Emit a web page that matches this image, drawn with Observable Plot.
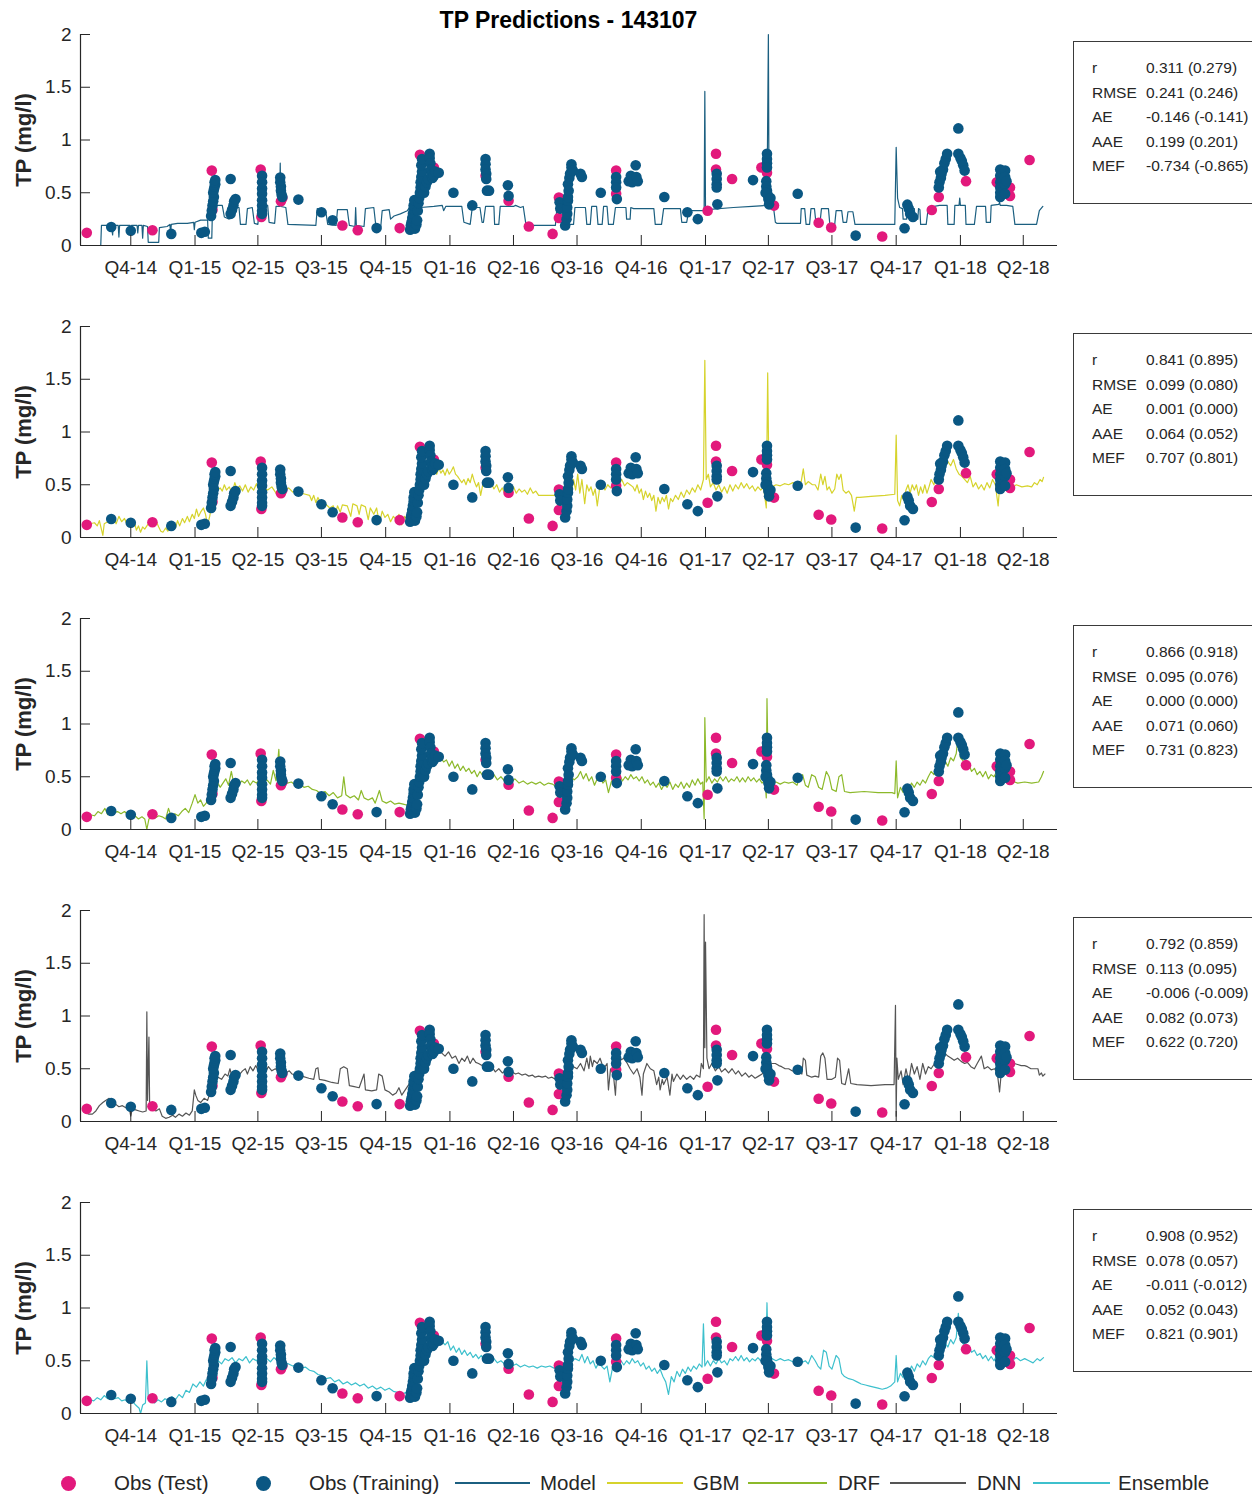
<!DOCTYPE html>
<html>
<head>
<meta charset="utf-8">
<script src="https://cdn.jsdelivr.net/npm/d3@7"></script>
<script src="https://cdn.jsdelivr.net/npm/@observablehq/plot@0.6"></script>
<style>
  html, body { margin: 0; padding: 0; background: #fff; overflow: hidden; }
  body { font-family: "Liberation Sans", Arial, sans-serif; color: #262626; }
  #wrap { position: relative; width: 1252px; height: 1495px; overflow: hidden; background: #fff; }
  .panel { position: absolute; left: 0; }
  .title { position: absolute; left: 80px; width: 977px; top: 9px; text-align: center;
           font-weight: bold; font-size: 23px; line-height: 23px; color: #000; }
  .ylab { position: absolute; left: 23.5px; font-weight: bold; font-size: 22px; line-height: 22px;
          white-space: nowrap; transform: translate(-50%, -50%) rotate(-90deg); color: #262626; }
  .stats { position: absolute; left: 1073px; width: 210px; height: 147px; border: 1px solid #3a3a3a;
           box-sizing: content-box; padding-top: 14px; padding-left: 18px; font-size: 15.5px; line-height: 24.5px;
           color: #262626; background: #fff; }
  .stats .row { white-space: nowrap; height: 24.5px; }
  .stats .k { display: inline-block; width: 54px; }
  .legend { position: absolute; left: 0; top: 0; width: 1252px; height: 1495px; pointer-events: none; }
  .lg-dot { position: absolute; width: 15px; height: 15px; border-radius: 50%; top: 1475.5px; }
  .lg-line { position: absolute; height: 1.6px; top: 1482px; }
  .lg-text { position: absolute; top: 1473px; font-size: 20.5px; line-height: 20.5px; white-space: nowrap; color: #262626; }
</style>
</head>
<body>
<div id="wrap"></div>
<script>
// ---------- data ----------
const chartTitle = "TP Predictions - 143107";
const yLabel = "TP (mg/l)";
const quarterLabels = ["Q4-14","Q1-15","Q2-15","Q3-15","Q4-15","Q1-16","Q2-16","Q3-16","Q4-16","Q1-17","Q2-17","Q3-17","Q4-17","Q1-18","Q2-18"];
const yTicks = [0, 0.5, 1, 1.5, 2];
// x values are days counted from 2014-10-01
const dayOrigin = Date.UTC(2014, 9, 1);
const xRangeDays = [-72, 1327];

const obsTest = [
  [-63,0.12],[31,0.145],[116,0.71],[117,0.34],[186,0.72],[187,0.27],[215,0.42],[217,0.45],
  [303,0.19],[325,0.145],[385,0.165],[407,0.2],[414,0.86],[420,0.62],[434,0.74],[508,0.66],
  [541,0.425],[570,0.18],[604,0.11],[613,0.455],[613,0.26],[695,0.71],[695,0.49],[826,0.33],
  [838,0.87],[838,0.72],[861,0.63],[903,0.74],[911,0.69],[921,0.378],[985,0.215],[1003,0.17],
  [1076,0.085],[1147,0.337],[1157,0.46],[1196,0.61],[1240,0.6],[1259,0.55],[1259,0.47],[1287,0.81]
];
const obsTraining = [
  [-28,0.175],[0,0.14],[58,0.11],[101,0.12],[106,0.13],
  [115,0.28],[116,0.33],[117,0.38],[118,0.42],[119,0.46],[118,0.5],[119,0.53],[120,0.56],[121,0.58],[120,0.6],[121,0.62],
  [143,0.63],[143,0.30],[145,0.34],[147,0.38],[148,0.42],[150,0.44],
  [188,0.66],[188,0.6],[188,0.54],[188,0.49],[188,0.43],[188,0.38],[188,0.33],[188,0.3],
  [214,0.645],[214,0.6],[215,0.56],[215,0.52],[216,0.48],[217,0.46],
  [240,0.435],[273,0.315],[289,0.24],[352,0.165],
  [400,0.15],[401,0.19],[402,0.22],[403,0.26],[404,0.3],[405,0.34],[405,0.38],[406,0.43],[407,0.16],[409,0.2],
  [410,0.24],[411,0.33],[412,0.4],[413,0.45],[414,0.5],[415,0.55],[415,0.6],[416,0.65],[417,0.7],[416,0.76],
  [417,0.82],[420,0.5],[422,0.56],[424,0.6],[426,0.63],[428,0.87],[428,0.83],[429,0.78],[430,0.72],[431,0.67],
  [432,0.64],[434,0.66],[436,0.7],[441,0.69],
  [462,0.5],[489,0.38],
  [508,0.82],[508,0.77],[508,0.72],[509,0.68],[509,0.63],[510,0.52],[513,0.52],
  [540,0.57],[541,0.47],
  [614,0.41],[615,0.35],[622,0.19],[624,0.25],[625,0.3],[625,0.36],[626,0.425],[626,0.46],[626,0.58],[627,0.52],
  [628,0.64],[629,0.68],[631,0.77],[631,0.74],[633,0.71],[644,0.68],[646,0.65],
  [673,0.5],
  [695,0.65],[695,0.6],[695,0.55],[696,0.44],
  [713,0.61],[716,0.66],[718,0.6],[723,0.76],[724,0.65],[726,0.61],
  [764,0.46],[797,0.315],[812,0.25],
  [839,0.68],[839,0.63],[839,0.58],[839,0.55],[840,0.39],
  [891,0.62],
  [911,0.87],[911,0.82],[911,0.78],[911,0.74],[910,0.61],[910,0.56],[911,0.52],[912,0.48],[913,0.44],[914,0.39],[909,0.5],[916,0.45],
  [955,0.49],[1038,0.094],[1108,0.164],[1112,0.387],[1114,0.35],[1116,0.3],[1120,0.27],
  [1157,0.55],[1158,0.6],[1160,0.64],[1161,0.68],[1163,0.72],[1165,0.78],[1167,0.82],[1169,0.87],[1159,0.7],
  [1185,1.11],[1185,0.87],[1188,0.83],[1190,0.8],[1192,0.76],[1194,0.71],
  [1245,0.72],[1245,0.66],[1245,0.6],[1245,0.55],[1245,0.5],[1245,0.46],[1252,0.71],[1252,0.65],[1252,0.58],[1252,0.49],[1254,0.61]
];

const modelLine = [
  [-72,0],[-43,0],[-42,0.19],[-28,0.19],[-26,0.1],[-25,0.19],[-18,0.19],[-17,0.08],[-16,0.19],[-1,0.19],[0,0.11],[1,0.19],
  [9,0.19],[10,0.12],[11,0.19],[16,0.19],[17,0.07],[18,0.19],[24,0.18],[25,0.03],[40,0.03],[41,0.17],[52,0.18],[56,0.2],
  [57,0.12],[58,0.2],[67,0.21],[81,0.21],[90,0.22],[91,0.15],[92,0.22],[100,0.24],[110,0.24],[111,0.07],[116,0.07],[117,0.35],
  [124,0.38],[131,0.38],[134,0.27],[141,0.25],[143,0.36],[155,0.36],[157,0.2],[165,0.2],[167,0.35],[174,0.36],[177,0.21],
  [182,0.2],[184,0.37],[196,0.38],[198,0.22],[206,0.21],[208,0.37],[213,0.37],[214,0.78],[215,0.37],[222,0.36],[225,0.2],
  [265,0.19],[267,0.35],[279,0.33],[282,0.2],[294,0.19],[296,0.34],[310,0.34],[313,0.19],[321,0.18],[322,0.36],[323,0.19],
  [334,0.18],[336,0.35],[348,0.36],[351,0.18],[358,0.18],[360,0.33],[370,0.34],[372,0.25],[377,0.28],[386,0.3],[396,0.33],
  [400,0.37],[415,0.36],[434,0.37],[446,0.38],[448,0.33],[451,0.37],[472,0.37],[474,0.37],[477,0.22],[486,0.2],[489,0.36],
  [500,0.36],[503,0.22],[505,0.22],[508,0.37],[520,0.37],[521,0.2],[527,0.2],[529,0.37],[548,0.37],[551,0.38],[558,0.36],
  [562,0.37],[566,0.19],[570,0.19],[608,0.19],[610,0.34],[625,0.35],[627,0.2],[634,0.2],[636,0.36],[651,0.36],[653,0.2],
  [658,0.2],[660,0.37],[667,0.37],[669,0.2],[675,0.2],[677,0.37],[682,0.37],[684,0.2],[691,0.2],[694,0.36],[709,0.36],
  [710,0.25],[715,0.25],[716,0.36],[720,0.35],[749,0.35],[751,0.2],[760,0.2],[763,0.35],[787,0.35],[789,0.22],[796,0.22],
  [799,0.33],[821,0.33],[822,1.46],[823,0.33],[825,0.34],[863,0.36],[890,0.37],[911,0.38],[913,2.0],[914,0.38],[920,0.38],
  [923,0.22],[925,0.21],[959,0.21],[960,0.35],[965,0.35],[967,0.2],[972,0.2],[974,0.35],[979,0.35],[981,0.22],[987,0.22],
  [989,0.35],[999,0.35],[1001,0.2],[1008,0.2],[1010,0.33],[1018,0.33],[1020,0.22],[1025,0.22],[1027,0.32],[1034,0.32],
  [1037,0.2],[1094,0.2],[1096,0.93],[1098,0.45],[1101,0.36],[1105,0.35],[1106,0.25],[1111,0.25],[1112,0.35],[1122,0.35],
  [1123,0.25],[1127,0.25],[1128,0.35],[1130,0.34],[1131,0.2],[1139,0.2],[1142,0.36],[1158,0.38],[1169,0.38],[1170,0.2],
  [1179,0.2],[1180,0.38],[1186,0.38],[1187,0.45],[1188,0.38],[1195,0.38],[1196,0.2],[1208,0.2],[1211,0.37],[1224,0.37],
  [1225,0.22],[1231,0.22],[1232,0.38],[1243,0.39],[1244,0.41],[1245,0.38],[1254,0.38],[1263,0.37],[1266,0.2],[1297,0.2],
  [1301,0.33],[1306,0.37]
];

const gbmLine = [
  [-64,0.12],[-58,0.13],[-52,0.14],[-48,0.11],[-45,0.16],[-40,0.02],[-38,0.13],[-33,0.15],[-28,0.14],[-24,0.19],[-21,0.13],
  [-17,0.2],[-13,0.15],[-9,0.18],[-5,0.12],[-1,0.14],[2,0.1],[5,0.15],[8,0.07],[11,0.11],[14,0.05],[17,0.1],[20,0.08],
  [24,0.12],[28,0.16],[32,0.13],[36,0.16],[40,0.1],[43,0.06],[46,0.05],[50,0.09],[53,0.06],[57,0.1],[60,0.13],[64,0.09],
  [67,0.16],[70,0.11],[74,0.18],[77,0.14],[81,0.2],[84,0.15],[88,0.22],[91,0.18],[94,0.27],[97,0.2],[100,0.24],[104,0.28],
  [107,0.22],[110,0.12],[113,0.2],[117,0.35],[120,0.42],[124,0.45],[128,0.47],[131,0.44],[134,0.5],[137,0.45],[141,0.48],
  [145,0.42],[149,0.52],[152,0.46],[156,0.49],[160,0.44],[164,0.5],[168,0.43],[172,0.48],[176,0.45],[180,0.51],[184,0.44],
  [190,0.47],[196,0.45],[202,0.48],[208,0.42],[214,0.46],[220,0.44],[226,0.47],[232,0.43],[238,0.45],[244,0.42],[250,0.41],
  [256,0.4],[259,0.35],[262,0.4],[265,0.33],[268,0.38],[271,0.34],[275,0.29],[280,0.31],[285,0.28],[290,0.3],[293,0.22],
  [296,0.3],[300,0.24],[303,0.31],[310,0.3],[315,0.2],[318,0.32],[324,0.3],[327,0.22],[330,0.31],[336,0.29],[340,0.17],
  [343,0.28],[348,0.22],[352,0.28],[356,0.13],[360,0.25],[364,0.19],[368,0.22],[372,0.15],[376,0.2],[380,0.17],[384,0.22],
  [388,0.12],[392,0.2],[396,0.16],[398,0.15],[402,0.2],[405,0.3],[410,0.45],[415,0.55],[420,0.6],[425,0.58],[430,0.62],
  [435,0.65],[438,0.6],[441,0.66],[444,0.61],[447,0.64],[450,0.59],[453,0.65],[456,0.6],[459,0.63],[462,0.67],[465,0.6],
  [468,0.58],[471,0.55],[474,0.52],[477,0.55],[480,0.5],[483,0.56],[486,0.52],[489,0.6],[492,0.53],[495,0.48],[498,0.52],
  [501,0.4],[504,0.5],[508,0.55],[512,0.48],[516,0.52],[520,0.46],[524,0.5],[528,0.43],[532,0.47],[536,0.41],[540,0.46],
  [544,0.43],[548,0.48],[552,0.42],[556,0.46],[560,0.43],[564,0.45],[568,0.41],[572,0.47],[576,0.42],[580,0.44],[584,0.4],
  [600,0.4],[610,0.4],[614,0.38],[618,0.42],[622,0.36],[626,0.44],[630,0.4],[634,0.55],[637,0.45],[640,0.6],[643,0.42],
  [646,0.55],[650,0.32],[653,0.5],[656,0.44],[659,0.48],[662,0.4],[665,0.46],[668,0.3],[671,0.45],[675,0.5],[679,0.45],
  [683,0.5],[687,0.47],[691,0.52],[695,0.48],[699,0.5],[703,0.55],[707,0.49],[711,0.52],[715,0.5],[719,0.48],[722,0.44],
  [725,0.5],[728,0.42],[731,0.46],[734,0.36],[737,0.44],[740,0.38],[743,0.42],[746,0.35],[749,0.4],[752,0.25],[755,0.38],
  [758,0.32],[761,0.38],[764,0.34],[767,0.4],[770,0.27],[773,0.37],[776,0.34],[780,0.4],[784,0.36],[788,0.43],[792,0.38],
  [796,0.45],[800,0.41],[804,0.47],[808,0.43],[812,0.5],[816,0.45],[820,0.55],[822,1.68],[824,0.55],[827,0.6],[830,0.48],
  [834,0.52],[838,0.45],[842,0.5],[846,0.43],[850,0.48],[854,0.42],[858,0.5],[862,0.44],[866,0.5],[870,0.46],[874,0.52],
  [878,0.47],[882,0.51],[886,0.46],[890,0.49],[894,0.44],[898,0.48],[902,0.45],[906,0.48],[910,0.28],[912,1.56],[914,0.45],
  [918,0.48],[924,0.5],[930,0.49],[936,0.51],[942,0.5],[948,0.52],[954,0.51],[960,0.53],[963,0.65],[966,0.5],[970,0.53],
  [976,0.5],[980,0.5],[984,0.45],[988,0.6],[991,0.5],[994,0.58],[997,0.45],[1000,0.48],[1004,0.42],[1008,0.46],[1011,0.6],
  [1014,0.55],[1017,0.6],[1020,0.45],[1024,0.42],[1028,0.44],[1032,0.4],[1036,0.25],[1039,0.38],[1044,0.38],[1060,0.39],
  [1080,0.4],[1094,0.41],[1096,0.97],[1098,0.35],[1101,0.3],[1104,0.4],[1107,0.35],[1110,0.45],[1113,0.5],[1116,0.42],
  [1119,0.5],[1122,0.45],[1125,0.5],[1128,0.4],[1131,0.48],[1134,0.42],[1137,0.5],[1140,0.42],[1143,0.48],[1146,0.55],
  [1150,0.5],[1154,0.6],[1158,0.63],[1162,0.66],[1166,0.7],[1170,0.72],[1174,0.68],[1178,0.74],[1182,0.65],[1186,0.6],
  [1190,0.58],[1194,0.55],[1198,0.52],[1202,0.58],[1206,0.48],[1210,0.52],[1214,0.46],[1218,0.5],[1222,0.45],[1226,0.52],
  [1230,0.47],[1234,0.55],[1238,0.5],[1242,0.3],[1245,0.55],[1248,0.5],[1252,0.56],[1256,0.5],[1260,0.54],[1264,0.48],
  [1268,0.5],[1276,0.48],[1284,0.49],[1290,0.48],[1294,0.52],[1298,0.5],[1302,0.55],[1305,0.53],[1307,0.57]
];

const drfLine = [
  [-63,0.12],[-58,0.14],[-52,0.13],[-47,0.17],[-42,0.15],[-37,0.2],[-33,0.14],[-29,0.18],[-24,0.16],[-19,0.17],[-14,0.15],
  [-9,0.17],[-4,0.14],[1,0.12],[6,0.13],[11,0.1],[16,0.12],[20,0.1],[23,0.0],[26,0.1],[30,0.12],[35,0.11],[40,0.13],
  [45,0.12],[50,0.1],[54,0.2],[58,0.12],[63,0.15],[68,0.13],[73,0.17],[78,0.2],[83,0.16],[88,0.25],[92,0.33],[96,0.25],
  [100,0.28],[104,0.22],[108,0.25],[112,0.32],[116,0.35],[120,0.42],[124,0.45],[128,0.4],[132,0.44],[136,0.48],[140,0.42],
  [144,0.55],[147,0.45],[151,0.48],[155,0.43],[159,0.46],[163,0.44],[167,0.47],[171,0.42],[175,0.46],[180,0.44],[185,0.48],
  [190,0.45],[195,0.47],[200,0.43],[204,0.56],[208,0.46],[212,0.76],[214,0.47],[218,0.46],[224,0.44],[230,0.45],[236,0.42],
  [242,0.43],[248,0.4],[254,0.41],[260,0.38],[266,0.37],[272,0.34],[278,0.36],[284,0.32],[290,0.35],[296,0.3],[302,0.32],
  [305,0.5],[308,0.33],[314,0.3],[320,0.32],[326,0.28],[330,0.37],[334,0.3],[340,0.28],[346,0.3],[350,0.25],[356,0.37],
  [360,0.27],[366,0.25],[372,0.27],[378,0.24],[384,0.25],[390,0.24],[396,0.23],[400,0.28],[405,0.35],[410,0.45],[415,0.55],
  [420,0.6],[425,0.62],[430,0.6],[435,0.65],[440,0.72],[444,0.68],[448,0.64],[452,0.66],[456,0.6],[460,0.65],[464,0.58],
  [468,0.62],[472,0.56],[476,0.6],[480,0.55],[484,0.58],[488,0.53],[492,0.56],[496,0.5],[500,0.55],[505,0.5],[510,0.53],
  [515,0.48],[520,0.52],[525,0.47],[530,0.5],[535,0.46],[540,0.49],[545,0.45],[550,0.48],[556,0.44],[562,0.46],[568,0.43],
  [574,0.45],[580,0.43],[586,0.45],[592,0.42],[598,0.44],[604,0.43],[610,0.4],[615,0.42],[620,0.45],[625,0.48],[630,0.5],
  [635,0.47],[640,0.5],[644,0.55],[648,0.48],[652,0.53],[656,0.46],[660,0.5],[664,0.42],[668,0.48],[672,0.5],[676,0.44],
  [680,0.47],[684,0.35],[688,0.45],[692,0.5],[696,0.47],[700,0.52],[704,0.46],[708,0.5],[712,0.47],[716,0.52],[720,0.48],
  [724,0.5],[728,0.46],[732,0.5],[736,0.44],[740,0.47],[744,0.42],[748,0.45],[752,0.4],[756,0.44],[760,0.38],[764,0.43],
  [768,0.4],[772,0.45],[776,0.38],[780,0.43],[784,0.4],[788,0.45],[792,0.39],[796,0.44],[800,0.4],[804,0.47],[808,0.42],
  [812,0.48],[816,0.43],[819,0.45],[821,0.1],[822,1.06],[824,0.45],[828,0.5],[832,0.44],[836,0.48],[840,0.45],[844,0.5],
  [848,0.46],[852,0.5],[856,0.45],[860,0.48],[864,0.46],[868,0.5],[872,0.45],[876,0.49],[880,0.45],[884,0.5],[888,0.46],
  [892,0.49],[896,0.45],[900,0.48],[904,0.44],[908,0.47],[910,0.3],[911,1.24],[913,0.45],[918,0.44],[924,0.45],[930,0.43],
  [936,0.45],[942,0.44],[948,0.45],[954,0.42],[958,0.5],[962,0.52],[966,0.42],[970,0.4],[975,0.52],[980,0.5],[985,0.4],
  [990,0.38],[996,0.55],[1000,0.5],[1004,0.38],[1010,0.36],[1014,0.5],[1018,0.52],[1022,0.36],[1030,0.35],[1050,0.36],
  [1070,0.35],[1090,0.35],[1094,0.34],[1096,0.65],[1098,0.3],[1102,0.4],[1106,0.35],[1110,0.42],[1114,0.38],[1118,0.44],
  [1122,0.4],[1126,0.45],[1130,0.42],[1134,0.47],[1138,0.44],[1142,0.5],[1146,0.55],[1150,0.52],[1154,0.6],[1158,0.57],
  [1162,0.62],[1166,0.65],[1170,0.6],[1174,0.68],[1178,0.65],[1182,0.72],[1185,0.9],[1188,0.68],[1192,0.65],[1196,0.6],
  [1200,0.62],[1204,0.55],[1208,0.58],[1212,0.52],[1216,0.55],[1220,0.5],[1224,0.55],[1228,0.48],[1232,0.52],[1236,0.5],
  [1240,0.55],[1244,0.5],[1248,0.52],[1252,0.47],[1256,0.45],[1262,0.46],[1270,0.44],[1280,0.45],[1290,0.44],[1300,0.45],
  [1304,0.5],[1307,0.55]
];

const dnnLine = [
  [-64,0.08],[-60,0.07],[-55,0.07],[-50,0.1],[-45,0.15],[-40,0.18],[-36,0.2],[-31,0.22],[-26,0.18],[-21,0.16],[-17,0.14],
  [-12,0.15],[-7,0.13],[-2,0.12],[0,0.05],[2,0.12],[7,0.11],[12,0.1],[17,0.09],[22,0.1],[23,1.04],[24,0.2],[26,0.8],[27,0.15],
  [30,0.12],[36,0.1],[41,0.12],[45,0.05],[50,0.03],[55,0.04],[60,0.06],[64,0.04],[69,0.07],[74,0.05],[79,0.08],[84,0.06],
  [88,0.1],[91,0.3],[93,0.25],[96,0.2],[100,0.18],[105,0.22],[110,0.2],[115,0.3],[120,0.38],[125,0.42],[130,0.4],[135,0.45],
  [139,0.43],[142,0.5],[145,0.42],[150,0.45],[155,0.44],[160,0.48],[164,0.5],[167,0.45],[171,0.52],[175,0.48],[179,0.53],
  [184,0.46],[188,0.5],[193,0.47],[197,0.52],[202,0.48],[207,0.5],[212,0.47],[217,0.49],[222,0.46],[227,0.48],[231,0.45],
  [236,0.44],[245,0.43],[255,0.41],[262,0.4],[265,0.5],[268,0.51],[270,0.4],[278,0.39],[288,0.37],[297,0.36],[300,0.5],
  [305,0.52],[310,0.5],[313,0.34],[320,0.33],[327,0.32],[334,0.45],[336,0.3],[345,0.29],[352,0.3],[355,0.45],[360,0.43],
  [364,0.3],[370,0.28],[375,0.25],[380,0.27],[384,0.32],[388,0.25],[393,0.3],[398,0.35],[405,0.45],[412,0.55],[420,0.6],
  [427,0.65],[434,0.68],[441,0.7],[445,0.65],[450,0.62],[455,0.66],[460,0.6],[465,0.62],[470,0.55],[474,0.6],[478,0.57],
  [482,0.62],[486,0.55],[490,0.6],[494,0.56],[498,0.55],[503,0.53],[508,0.55],[512,0.5],[517,0.52],[522,0.47],[527,0.5],
  [532,0.46],[536,0.48],[541,0.45],[546,0.47],[551,0.45],[555,0.46],[560,0.44],[565,0.45],[570,0.43],[575,0.44],[579,0.42],
  [584,0.43],[589,0.42],[594,0.43],[598,0.41],[603,0.42],[608,0.4],[613,0.41],[617,0.4],[622,0.42],[625,0.5],[630,0.55],
  [634,0.52],[639,0.5],[644,0.55],[649,0.48],[653,0.6],[656,0.5],[658,0.62],[661,0.52],[663,0.58],[668,0.55],[672,0.6],
  [677,0.5],[682,0.55],[684,0.3],[687,0.5],[691,0.45],[694,0.25],[696,0.5],[701,0.58],[706,0.6],[711,0.55],[715,0.5],
  [720,0.45],[725,0.5],[729,0.42],[732,0.25],[734,0.45],[739,0.55],[744,0.5],[749,0.48],[753,0.35],[756,0.42],[758,0.3],
  [761,0.4],[763,0.35],[768,0.42],[772,0.25],[775,0.45],[777,0.38],[782,0.45],[787,0.4],[791,0.44],[796,0.4],[801,0.43],
  [806,0.4],[810,0.44],[815,0.42],[817,0.55],[820,0.5],[821,1.96],[822,0.7],[823,1.7],[825,0.6],[828,0.5],[832,0.55],
  [837,0.48],[842,0.52],[846,0.47],[851,0.5],[856,0.46],[861,0.5],[866,0.45],[870,0.48],[875,0.43],[880,0.46],[885,0.42],
  [889,0.44],[894,0.41],[899,0.43],[904,0.45],[908,0.5],[913,0.52],[918,0.55],[923,0.55],[928,0.53],[932,0.52],[937,0.5],
  [942,0.5],[947,0.48],[951,0.48],[956,0.47],[961,0.45],[963,0.6],[966,0.58],[968,0.44],[975,0.42],[980,0.43],[985,0.42],
  [988,0.62],[991,0.65],[994,0.6],[997,0.4],[1004,0.4],[1009,0.42],[1012,0.6],[1015,0.58],[1018,0.36],[1023,0.35],[1028,0.5],
  [1031,0.36],[1040,0.35],[1060,0.34],[1080,0.35],[1093,0.35],[1095,1.1],[1096,0.05],[1097,0.6],[1099,0.4],[1103,0.48],
  [1106,0.35],[1110,0.5],[1114,0.38],[1118,0.55],[1122,0.45],[1126,0.52],[1130,0.4],[1134,0.55],[1138,0.45],[1142,0.52],
  [1146,0.5],[1151,0.55],[1156,0.6],[1160,0.62],[1165,0.65],[1170,0.62],[1175,0.6],[1179,0.58],[1184,0.6],[1189,0.57],
  [1194,0.55],[1198,0.56],[1203,0.52],[1208,0.5],[1212,0.55],[1218,0.62],[1222,0.5],[1227,0.52],[1232,0.49],[1237,0.5],
  [1241,0.45],[1244,0.28],[1247,0.5],[1251,0.52],[1256,0.55],[1261,0.56],[1265,0.55],[1270,0.54],[1275,0.53],[1280,0.53],
  [1284,0.52],[1289,0.5],[1294,0.5],[1299,0.5],[1301,0.44],[1304,0.46],[1306,0.43],[1309,0.45]
];

const ensembleLine = [
  [-63,0.12],[-58,0.13],[-53,0.12],[-48,0.15],[-43,0.13],[-38,0.17],[-33,0.14],[-28,0.16],[-23,0.14],[-18,0.15],[-13,0.12],
  [-8,0.13],[-3,0.1],[2,0.12],[7,0.08],[12,0.05],[14,0.0],[17,0.08],[21,0.1],[23,0.5],[25,0.15],[29,0.12],[34,0.1],[39,0.13],
  [44,0.11],[49,0.14],[54,0.12],[59,0.16],[64,0.13],[69,0.18],[74,0.15],[79,0.22],[84,0.2],[89,0.28],[94,0.25],[99,0.3],
  [104,0.26],[108,0.32],[112,0.3],[116,0.38],[120,0.45],[125,0.5],[130,0.47],[135,0.52],[140,0.5],[145,0.53],[150,0.48],
  [155,0.52],[160,0.5],[165,0.54],[170,0.48],[175,0.52],[180,0.5],[185,0.55],[190,0.5],[195,0.52],[200,0.49],[205,0.53],
  [210,0.5],[215,0.55],[220,0.48],[226,0.47],[232,0.45],[238,0.46],[244,0.43],[250,0.44],[256,0.41],[262,0.4],[268,0.37],
  [274,0.36],[280,0.33],[286,0.34],[292,0.3],[298,0.32],[304,0.28],[310,0.3],[316,0.27],[322,0.29],[328,0.26],[334,0.28],
  [340,0.24],[346,0.26],[352,0.23],[358,0.25],[364,0.22],[370,0.24],[376,0.21],[382,0.2],[388,0.18],[394,0.2],[400,0.25],
  [406,0.35],[412,0.45],[418,0.55],[424,0.62],[430,0.65],[436,0.7],[442,0.72],[446,0.68],[450,0.65],[454,0.68],[458,0.6],
  [462,0.64],[466,0.58],[470,0.62],[474,0.56],[478,0.6],[482,0.55],[486,0.58],[490,0.53],[494,0.56],[498,0.52],[502,0.55],
  [506,0.5],[510,0.53],[515,0.49],[520,0.52],[525,0.48],[530,0.5],[535,0.47],[540,0.48],[546,0.45],[552,0.47],[558,0.44],
  [564,0.46],[570,0.44],[576,0.45],[582,0.43],[588,0.45],[594,0.44],[600,0.45],[606,0.43],[612,0.44],[618,0.46],[624,0.5],
  [630,0.48],[636,0.52],[642,0.5],[646,0.56],[650,0.48],[654,0.54],[658,0.47],[662,0.5],[666,0.43],[670,0.48],[674,0.45],
  [678,0.42],[682,0.45],[686,0.3],[690,0.44],[694,0.48],[698,0.45],[702,0.5],[706,0.46],[710,0.5],[714,0.47],[718,0.52],
  [722,0.48],[726,0.5],[730,0.45],[734,0.48],[738,0.42],[742,0.45],[746,0.4],[750,0.43],[754,0.38],[758,0.42],[762,0.35],
  [766,0.3],[770,0.18],[774,0.35],[778,0.3],[782,0.4],[786,0.35],[790,0.42],[794,0.38],[798,0.44],[802,0.4],[806,0.45],
  [810,0.42],[814,0.47],[818,0.44],[820,0.85],[822,0.45],[826,0.5],[830,0.45],[834,0.5],[838,0.47],[842,0.52],[846,0.48],
  [850,0.5],[854,0.46],[858,0.52],[862,0.5],[866,0.54],[870,0.5],[874,0.55],[878,0.5],[882,0.53],[886,0.49],[890,0.52],
  [894,0.5],[898,0.53],[902,0.5],[906,0.52],[909,0.45],[911,1.05],[913,0.5],[918,0.52],[924,0.5],[930,0.52],[936,0.5],
  [942,0.51],[948,0.49],[954,0.5],[960,0.48],[966,0.5],[970,0.47],[975,0.55],[980,0.5],[984,0.45],[988,0.42],[992,0.6],
  [996,0.58],[1000,0.45],[1004,0.42],[1010,0.55],[1014,0.52],[1018,0.38],[1022,0.35],[1028,0.33],[1034,0.32],[1040,0.3],
  [1046,0.28],[1052,0.27],[1058,0.26],[1064,0.25],[1070,0.24],[1076,0.23],[1082,0.24],[1088,0.26],[1094,0.3],[1096,0.55],
  [1098,0.3],[1102,0.38],[1106,0.34],[1110,0.42],[1114,0.38],[1118,0.45],[1122,0.4],[1126,0.47],[1130,0.44],[1134,0.5],
  [1138,0.46],[1142,0.52],[1146,0.55],[1150,0.53],[1154,0.6],[1158,0.58],[1162,0.64],[1166,0.67],[1170,0.63],[1174,0.7],
  [1178,0.66],[1182,0.72],[1185,0.95],[1188,0.7],[1192,0.66],[1196,0.62],[1200,0.64],[1204,0.58],[1208,0.6],[1212,0.55],
  [1216,0.57],[1220,0.52],[1224,0.55],[1228,0.5],[1232,0.54],[1236,0.5],[1240,0.55],[1244,0.5],[1248,0.53],[1252,0.48],
  [1256,0.52],[1262,0.5],[1268,0.53],[1274,0.5],[1280,0.52],[1286,0.5],[1292,0.48],[1298,0.52],[1302,0.5],[1307,0.53]
];

const statNames = ["r", "RMSE", "AE", "AAE", "MEF"];
const statsModel    = ["0.311 (0.279)", "0.241 (0.246)", "-0.146 (-0.141)", "0.199 (0.201)", "-0.734 (-0.865)"];
const statsGBM      = ["0.841 (0.895)", "0.099 (0.080)", "0.001 (0.000)", "0.064 (0.052)", "0.707 (0.801)"];
const statsDRF      = ["0.866 (0.918)", "0.095 (0.076)", "0.000 (0.000)", "0.071 (0.060)", "0.731 (0.823)"];
const statsDNN      = ["0.792 (0.859)", "0.113 (0.095)", "-0.006 (-0.009)", "0.082 (0.073)", "0.622 (0.720)"];
const statsEnsemble = ["0.908 (0.952)", "0.078 (0.057)", "-0.011 (-0.012)", "0.052 (0.043)", "0.821 (0.901)"];

const seriesNames = ["Model", "GBM", "DRF", "DNN", "Ensemble"];
const obsNames = ["Obs (Test)", "Obs (Training)"];

// ---------- styling ----------
const colTest = "#e2197c";
const colTrain = "#0a5783";
const lineColors = {Model: "#1b5f80", GBM: "#d6d32c", DRF: "#8cb92a", DNN: "#555555", Ensemble: "#3dc0cd"};
const axisColor = "#262626";

// ---------- build ----------
const toDate = d => new Date(dayOrigin + d * 864e5);
const xDomain = xRangeDays.map(toDate);
const quarterDates = quarterLabels.map(l => {
  const q = +l[1], yy = +l.slice(3);
  return new Date(Date.UTC(2000 + yy, (q - 1) * 3, 1));
});
const labelByTime = new Map(quarterDates.map((d, i) => [d.getTime(), quarterLabels[i]]));

const panels = [
  {name: "Model", data: modelLine, stats: statsModel},
  {name: "GBM", data: gbmLine, stats: statsGBM},
  {name: "DRF", data: drfLine, stats: statsDRF},
  {name: "DNN", data: dnnLine, stats: statsDNN},
  {name: "Ensemble", data: ensembleLine, stats: statsEnsemble}
];

const wrap = document.getElementById("wrap");
const panelH = 292;

panels.forEach((p, i) => {
  const svg = Plot.plot({
    width: 1252, height: panelH,
    marginLeft: 80, marginRight: 195, marginTop: 34, marginBottom: 47,
    style: {fontFamily: "'Liberation Sans', Arial, sans-serif", fontSize: "19px", color: axisColor, background: "transparent", overflow: "visible"},
    x: {type: "utc", domain: xDomain},
    y: {domain: [0, 2]},
    marks: [
      Plot.line(p.data, {x: d => toDate(d[0]), y: d => d[1], stroke: lineColors[p.name], strokeWidth: 1.2}),
      Plot.dot(obsTest, {x: d => toDate(d[0]), y: d => d[1], r: 5.3, fill: colTest, stroke: "none"}),
      Plot.dot(obsTraining, {x: d => toDate(d[0]), y: d => d[1], r: 5.3, fill: colTrain, stroke: "none"}),
      Plot.ruleY([0], {stroke: axisColor, strokeWidth: 1.2}),
      Plot.ruleX([xDomain[0]], {stroke: axisColor, strokeWidth: 1.2}),
      Plot.axisX(quarterDates, {tickSize: -10, tickFormat: () => "", label: null, stroke: axisColor}),
      Plot.axisX(quarterDates, {tickSize: 0, tickPadding: 15, tickFormat: d => labelByTime.get(d.getTime()), label: null, fill: axisColor}),
      Plot.axisY(yTicks, {tickSize: -10, tickFormat: () => "", label: null, stroke: axisColor}),
      Plot.axisY(yTicks, {tickSize: 0, tickPadding: 9, tickFormat: d => String(d), label: null, fill: axisColor})
    ]
  });
  const holder = document.createElement("div");
  holder.className = "panel";
  holder.style.top = (i * panelH) + "px";
  holder.appendChild(svg);
  wrap.appendChild(holder);

  const yl = document.createElement("div");
  yl.className = "ylab";
  yl.style.top = (i * panelH + 139.5) + "px";
  yl.textContent = yLabel;
  wrap.appendChild(yl);

  const box = document.createElement("div");
  box.className = "stats";
  box.style.top = (i * panelH + 41) + "px";
  statNames.forEach((k, j) => {
    const row = document.createElement("div");
    row.className = "row";
    const a = document.createElement("span"); a.className = "k"; a.textContent = k;
    const b = document.createElement("span"); b.textContent = p.stats[j];
    row.appendChild(a); row.appendChild(b);
    box.appendChild(row);
  });
  wrap.appendChild(box);
});

const title = document.createElement("div");
title.className = "title";
title.textContent = chartTitle;
wrap.appendChild(title);

// legend
const legend = document.createElement("div");
legend.className = "legend";
function addEl(cls, left, extra) {
  const e = document.createElement("div");
  e.className = cls; e.style.left = left + "px";
  Object.assign(e.style, extra || {});
  legend.appendChild(e); return e;
}
addEl("lg-dot", 60.5, {background: colTest});
addEl("lg-text", 114).textContent = obsNames[0];
addEl("lg-dot", 255.5, {background: colTrain});
addEl("lg-text", 309).textContent = obsNames[1];
const lgLines = [[455, 530, 540], [607, 683, 693], [748, 827, 838], [890, 966, 977], [1033, 1110, 1118]];
seriesNames.forEach((n, i) => {
  const [x1, x2, tx] = lgLines[i];
  addEl("lg-line", x1, {width: (x2 - x1) + "px", backgroundColor: lineColors[n]});
  addEl("lg-text", tx).textContent = n;
});
wrap.appendChild(legend);
</script>
</body>
</html>
